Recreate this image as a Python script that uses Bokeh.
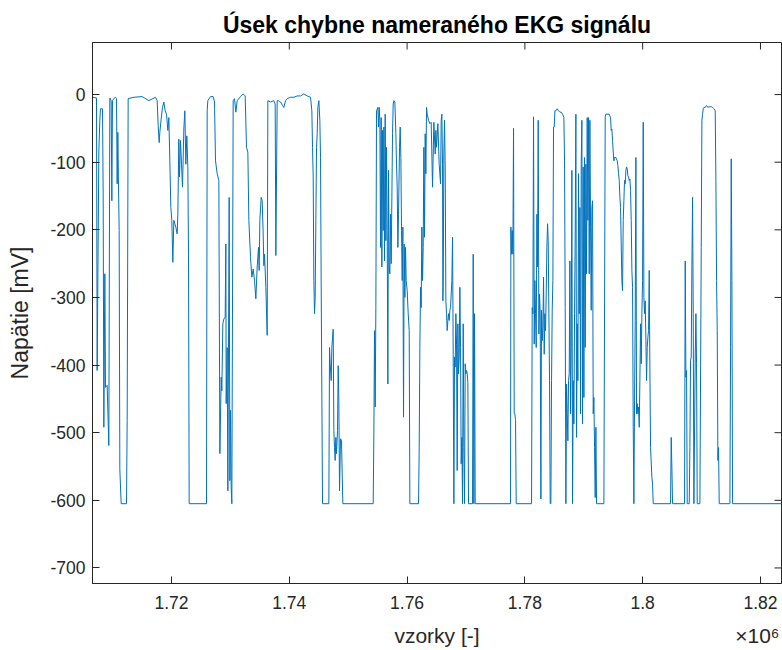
import math
from bokeh.plotting import figure
from bokeh.models import (Range1d, FixedTicker, CustomJSTickFormatter, LinearAxis, ColumnDataSource)
from bokeh.embed import file_html
from bokeh.resources import INLINE

TITLE = "Úsek chybne nameraného EKG signálu"
X_LABEL = "vzorky [-]"
Y_LABEL = "Napätie [mV]"
X_TICKS = [1720000, 1740000, 1760000, 1780000, 1800000, 1820000]
Y_TICKS = [-700, -600, -500, -400, -300, -200, -100, 0]
X_LIMITS = (1706590, 1823570)
Y_LIMITS = (-723, 77)
X_EXPONENT = "×10⁶"

# (sample index, voltage in mV), in four stretches
seg_1 = [(1706590,-4),(1707269,-5),(1707382,-408),(1707665,-85),(1707835,-38),(1707948,-21),(1708288,-21),
 (1708401,-147),(1708514,-492),(1708684,-265),(1708797,-433),(1709080,-430),(1709363,-519),(1709533,-5),
 (1709759,-9),(1709872,-157),(1709986,-9),(1710212,-6),(1710495,-4),(1710665,-6),(1710778,-132),(1710891,-56),
 (1711004,-135),(1711118,-201),(1711231,-554),(1711457,-605),(1712363,-605),(1712476,-482),(1712646,-6),
 (1713608,-4),(1715023,-3),(1716155,-9),(1717287,-4),(1717570,-9),(1717740,-46),(1717910,-71),(1718023,-56),
 (1718249,-36),(1718476,-19),(1718702,-11),(1718928,-24),(1719155,-29),(1719381,-53),(1719551,-34),
 (1719721,-98),(1719891,-167),(1720060,-186),(1720230,-248),(1720400,-186),(1720570,-191),(1720740,-196),
 (1720966,-206),(1721079,-177),(1721249,-66),(1721362,-122),(1721532,-68),(1721702,-103),(1721872,-137),
 (1722098,-51),(1722268,-24),(1722438,-103),(1722607,-61),(1722777,-107),(1722890,-236),(1723004,-605),
 (1725947,-605),(1726060,-24),(1726173,-9),(1726626,-3),(1727079,-3),(1727305,-11),(1727475,-98),
 (1727758,-117),(1728041,-127),(1728211,-531),(1728437,-418),(1728550,-438),(1728720,-339),(1728890,-332),
 (1729116,-329),(1729230,-221),(1729286,-457),(1729456,-374),(1729569,-586),(1729682,-374),(1729796,-152),
 (1729909,-571),(1730022,-467),(1730135,-581),(1730248,-605),(1730475,-9),(1730701,-6),(1730928,-26),
 (1731154,-9),(1731720,-3),(1732173,1),(1732512,-2),(1732739,-78),(1732965,-85),(1733135,-186),
 (1733418,-241),(1733644,-270),(1733871,-258),(1734097,-275),(1734324,-302),(1734550,-255),(1734776,-226),
 (1734890,-260),(1735003,-186),(1735229,-152),(1735399,-157),(1735569,-206),(1735682,-253),(1735795,-236),
 (1736022,-285),(1736248,-356),(1736361,-9)]

seg_2 = [(1736814,-11),(1737380,-9),(1737606,-14),(1737720,-238),(1737946,-9),(1738172,-9),(1738512,-11),
 (1738852,-16),(1739078,-19),(1739361,-9),(1739644,-6),(1740210,-4),(1740776,-4),(1741342,-2),(1741908,-2),
 (1742474,1),(1743040,-2),(1743606,-4),(1743832,-24),(1743946,-78),(1744059,-122),(1744172,-275),
 (1744285,-324),(1744398,-300),(1744512,-186),(1744625,-78),(1744738,-58),(1744851,-19),(1745021,-9),
 (1745191,-38),(1745304,-93),(1745417,-280),(1745644,-605),(1746719,-605),(1746832,-374),(1746945,-398),
 (1747115,-423),(1747228,-374),(1747455,-347),(1747568,-497),(1747681,-522),(1747794,-541),(1747908,-507),
 (1748021,-531),(1748191,-497),(1748304,-401),(1748417,-453),(1748530,-586),(1748700,-509),(1748870,-512),
 (1748983,-561),(1749096,-605),(1754247,-605),(1754360,-502),(1754473,-349),(1754586,-462),(1754700,-315),
 (1754813,-24),(1755039,-19),(1755152,-48),(1755266,-19),(1755379,-38),(1755492,-226),(1755605,-34),
 (1755718,-255),(1755832,-53),(1755945,-201),(1756058,-48),(1756171,-246),(1756284,-29),(1756398,-216),
 (1756511,-78),(1756624,-201),(1756737,-428),(1756850,-112),(1756964,-255),(1757077,-265),(1757190,-177),
 (1757303,-250),(1757416,-152),(1757530,-58),(1757643,-14),(1757756,-9),(1757926,-11),(1758096,-58),
 (1758209,-103),(1758322,-137),(1758435,-226),(1758548,-177),(1758718,-78),(1758831,-48),(1758945,-93),
 (1759058,-201),(1759171,-275),(1759284,-196),(1759397,-477),(1759510,-221),(1759624,-300),(1759737,-226),
 (1759850,-275),(1760020,-290),(1760190,-324),(1760360,-349),(1760473,-605),(1761944,-605),(1762058,-522),
 (1762171,-374),(1762284,-285),(1762397,-315),(1762510,-196),(1762624,-275),(1762737,-226),(1762850,-78),
 (1762963,-211),(1763076,-58),(1763190,-117),(1763303,-19),(1763416,-29),(1763642,-38),(1763869,-43),
 (1764095,-41),(1764322,-137),(1764548,-41),(1764774,-88),(1764888,-53),(1765001,-78),(1765227,-43),
 (1765454,-103),(1765680,-132)]

seg_3 = [(1765793,-38),(1765906,-29),(1766020,-103),(1766076,-305),(1766133,-285),(1766246,-88),(1766359,-38),
 (1766472,-107),(1766586,-305),(1766699,-324),(1766812,-349),(1766925,-334),(1767038,-324),(1767152,-334),
 (1767265,-319),(1767378,-315),(1767491,-295),(1767604,-275),(1767718,-211),(1767831,-384),(1767944,-605),
 (1768057,-388),(1768170,-403),(1768284,-324),(1768397,-369),(1768510,-556),(1768623,-339),(1768736,-413),
 (1768850,-388),(1768963,-285),(1769076,-374),(1769189,-546),(1769302,-507),(1769416,-605),(1769529,-339),
 (1769642,-522),(1769755,-605),(1769868,-398),(1769982,-413),(1770095,-408),(1770208,-413),(1770321,-426),
 (1770434,-605),(1771114,-605),(1771227,-236),(1771340,-605),(1771453,-324),(1771566,-605),(1777566,-605),
 (1777623,-196),(1777736,-236),(1777849,-201),(1777962,-236),(1778075,-50),(1778188,-472),(1778302,-472),
 (1778415,-482),(1778528,-605),(1781132,-605),(1781245,-315),(1781358,-324),(1781471,-33),(1781585,-369),
 (1781698,-275),(1781811,-324),(1781924,-374),(1782037,-177),(1782151,-255),(1782264,-38),(1782377,-354),
 (1782490,-295),(1782603,-324),(1782717,-598),(1782830,-319),(1782943,-364),(1783056,-344),(1783169,-270),
 (1783283,-384),(1783396,-324),(1783509,-349),(1783622,-295),(1783735,-226),(1783849,-191),(1783962,-216),
 (1784075,-324),(1784188,-423),(1784301,-605),(1784415,-605),(1784528,-423),(1784641,-319),(1784754,-275),
 (1784867,-48),(1784981,-48),(1785094,-24),(1785264,-24),(1785490,-21),(1785716,-24),(1785943,-26),
 (1786169,-26),(1786396,-29),(1786622,-34),(1786735,-98),(1786848,-315),(1786962,-605),(1787075,-428),
 (1787188,-472),(1787301,-512),(1787414,-423),(1787528,-413),(1787641,-246),(1787754,-472),(1787867,-374),
 (1787980,-112),(1788094,-605),(1788207,-423),(1788320,-487),(1788433,-324),(1788546,-206),(1788660,-29),
 (1788773,-507),(1788886,-339),(1788999,-423),(1789112,-117),(1789226,-324),(1789339,-167),(1789452,-472),
 (1789565,-103),(1789678,-38),(1789792,-487),(1789905,-107),(1790018,-448),(1790131,-93),(1790244,-374),
 (1790358,-103),(1790471,-265),(1790584,-34),(1790697,-186),(1790810,-34),(1790924,-265),(1791037,-38),
 (1791150,-196),(1791263,-319),(1791376,-167),(1791490,-157),(1791603,-472),(1791716,-448),(1791829,-522),
 (1791942,-596),(1792056,-492),(1792169,-605)]

seg_4 = [(1792282,-605),(1793414,-605),(1793640,-33),(1793754,-29),(1794320,-29),(1794546,-34),(1794659,-53),
 (1794772,-51),(1794886,-68),(1794999,-85),(1795112,-98),(1795225,-93),(1795452,-93),(1795678,-98),
 (1795791,-105),(1795904,-117),(1796018,-127),(1796131,-152),(1796244,-167),(1796357,-221),(1796470,-275),
 (1796584,-290),(1796697,-186),(1796810,-157),(1796923,-127),(1797036,-132),(1797150,-112),(1797263,-107),
 (1797376,-110),(1797489,-120),(1797602,-122),(1797716,-127),(1797829,-125),(1797942,-142),(1798055,-186),
 (1798168,-260),(1798282,-285),(1798395,-492),(1798508,-605),(1798621,-453),(1798734,-334),(1798848,-93),
 (1798961,-472),(1799074,-457),(1799187,-472),(1799300,-462),(1799414,-492),(1799527,-423),(1799640,-339),
 (1799753,-398),(1799866,-324),(1799980,-275),(1800093,-41),(1800206,-300),(1800319,-324),(1800432,-305),
 (1800546,-364),(1800659,-423),(1800772,-374),(1800885,-359),(1800998,-349),(1801112,-260),(1801225,-403),
 (1801338,-522),(1801564,-566),(1801678,-576),(1801791,-605),(1804734,-605),(1804846,-507),(1804960,-551),
 (1805074,-605),(1807111,-605),(1807224,-246),(1807338,-418),(1807451,-408),(1807564,-605),(1807904,-605),
 (1808017,-522),(1808130,-393),(1808243,-388),(1808356,-255),(1808470,-152),(1808583,-324),(1808696,-605),
 (1808922,-388),(1809036,-324),(1809149,-398),(1809262,-605),(1809715,-605),(1809942,-226),(1810055,-38),
 (1810168,-29),(1810281,-21),(1810394,-19),(1810620,-19),(1810847,-16),(1811074,-19),(1811300,-18),
 (1811640,-18),(1811866,-19),(1812092,-21),(1812318,-24),(1812432,-127),(1812545,-275),(1812658,-349),
 (1812771,-541),(1812884,-522),(1812998,-605),(1814809,-605),(1814922,-374),(1815035,-95),(1815148,-275),
 (1815262,-605),(1823570,-605)]

trace = seg_1 + seg_2 + seg_3 + seg_4
src = ColumnDataSource(dict(sample=[s for s, _ in trace], mv=[v for _, v in trace]))

AX = "#262626"
FONT = "Liberation Sans"

p = figure(width=782, height=650, output_backend="svg", toolbar_location=None,
           x_range=Range1d(*X_LIMITS), y_range=Range1d(*Y_LIMITS),
           min_border_left=92, min_border_right=1, min_border_top=42, min_border_bottom=67,
           background_fill_color="white", border_fill_color="white")

p.title.text = TITLE
p.title.align = "center"
p.title.text_font = FONT
p.title.text_font_size = "23px"
p.title.text_font_style = "bold"
p.title.text_color = "black"

p.line("sample", "mv", source=src, line_color="#0072BD", line_width=1.0)

p.xgrid.visible = False
p.ygrid.visible = False
p.outline_line_color = AX
p.outline_line_width = 1
p.outline_line_alpha = 1

p.xaxis.ticker = FixedTicker(ticks=X_TICKS)
p.xaxis.formatter = CustomJSTickFormatter(code="return (tick / 1e6).toString();")
p.yaxis.ticker = FixedTicker(ticks=Y_TICKS)
p.yaxis.formatter = CustomJSTickFormatter(code="return tick.toString();")
p.yaxis.axis_label = Y_LABEL

for ax in (p.xaxis[0], p.yaxis[0]):
    ax.axis_line_color = AX
    ax.major_tick_line_color = AX
    ax.major_tick_in = 7
    ax.major_tick_out = 0
    ax.minor_tick_in = 0
    ax.minor_tick_out = 0
    ax.major_label_text_font = FONT
    ax.major_label_text_font_size = "17.5px"
    ax.major_label_text_color = AX
    ax.axis_label_text_font = FONT
    ax.axis_label_text_font_style = "normal"
    ax.axis_label_text_color = AX

p.yaxis.axis_label_text_font_size = "23px"
p.xaxis.major_label_standoff = 12
p.yaxis.major_label_standoff = 7
p.yaxis.axis_label_standoff = 14

# second text row under the x axis: axis title centred, exponent "×10⁶" at the right end
x_span = X_LIMITS[1] - X_LIMITS[0]
label_row_pos = [round(X_LIMITS[0] + 0.5 * x_span), round(X_LIMITS[1] - 0.035 * x_span)]
label_row = LinearAxis(
    ticker=FixedTicker(ticks=label_row_pos),
    formatter=CustomJSTickFormatter(args=dict(names=[X_LABEL, X_EXPONENT]),
                                    code="return names[index];"),
    axis_line_color=None, major_tick_line_color=None, minor_tick_line_color=None,
    major_tick_in=0, major_tick_out=0, minor_tick_in=0, minor_tick_out=0,
    major_label_standoff=12, major_label_text_font=FONT, major_label_text_font_size="21px",
    major_label_text_color=AX)
p.add_layout(label_row, "below")

# inward ticks on the top and right edges of the box (MATLAB "box on")
p.scatter(x=X_TICKS, y=[Y_LIMITS[1]] * len(X_TICKS), marker="dash", size=14,
          angle=math.pi / 2, line_color=AX, line_width=1)
p.scatter(x=[X_LIMITS[1]] * len(Y_TICKS), y=Y_TICKS, marker="dash", size=14,
          angle=0, line_color=AX, line_width=1)

open("out.html", "w").write(file_html(p, INLINE))
